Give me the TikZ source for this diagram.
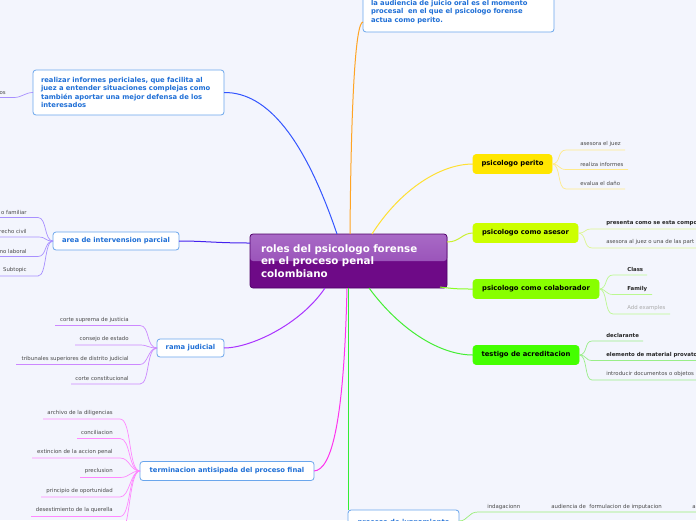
\documentclass[tikz,border=0pt]{standalone}
\usepackage{fontspec}
\setmainfont{DejaVu Sans}
\definecolor{bgc}{HTML}{F3F5FD}
\definecolor{bluet}{HTML}{1F6FD6}
\definecolor{nodeb}{HTML}{6AA6EC}
\definecolor{leafc}{HTML}{4A4A4A}
\definecolor{cblue}{HTML}{3355FF}
\definecolor{corange}{HTML}{FFA424}
\definecolor{cviol}{HTML}{4422EE}
\definecolor{cviolL}{HTML}{A890FF}
\definecolor{crama}{HTML}{AA33FF}
\definecolor{cramaL}{HTML}{CC88FF}
\definecolor{cmag}{HTML}{FF33EE}
\definecolor{cmagL}{HTML}{FF88FF}
\definecolor{cgreen}{HTML}{33EE33}
\definecolor{cgreenL}{HTML}{99EE77}
\definecolor{cyel}{HTML}{FFE033}
\definecolor{cyelL}{HTML}{FFEA8A}
\definecolor{clime}{HTML}{CCF033}
\definecolor{climeL}{HTML}{DDF590}
\definecolor{ccol}{HTML}{88FF22}
\definecolor{ccolL}{HTML}{BBF890}
\definecolor{ctes}{HTML}{44EE33}
\definecolor{ctesL}{HTML}{99EE88}
\definecolor{fper}{HTML}{FFE600}
\definecolor{fase}{HTML}{CCFF00}
\definecolor{fcol}{HTML}{88FF00}
\definecolor{ftes}{HTML}{44FF00}
\definecolor{cpTop}{HTML}{A86AC6}
\definecolor{cpMid}{HTML}{8E3FAE}
\definecolor{cpBot}{HTML}{6E0A87}
\definecolor{cpBord}{HTML}{4E0066}
\definecolor{addc}{HTML}{AAAAAA}
\begin{document}
\begin{tikzpicture}[x=1pt,y=-1pt,
  bn/.style={draw=nodeb, line width=0.8pt, fill=white, rounded corners=3pt,
    text=bluet, font=\fontsize{6.8}{8.6}\selectfont\bfseries, inner sep=0pt, outer sep=0pt},
  cnode/.style={rounded corners=3pt, text=black, font=\fontsize{6.8}{8}\selectfont\bfseries,
    inner sep=0pt, outer sep=0pt, line width=0.6pt},
  lf/.style={font=\fontsize{5.4}{6}\selectfont, text=leafc, inner sep=0.3pt, outer sep=0pt},
  lfb/.style={lf, font=\fontsize{5.4}{6}\selectfont\bfseries, text=black!85},
  conn/.style={line width=1pt},
  leaf/.style={line width=0.7pt}
]
\useasboundingbox[fill=bgc] (0,0) rectangle (696,520);

% ---------- connector end points on the centre node ----------
\coordinate (cTopO) at (350,234);
\coordinate (cTopB) at (337,234);
\coordinate (cTopY) at (372,234);
\coordinate (cLeft) at (250,243);
\coordinate (cBotV) at (325,288);
\coordinate (cBotM) at (347,288);
\coordinate (cBotG) at (348.5,288);
\coordinate (cBotT) at (369,288);
\coordinate (cRA) at (447,242);
\coordinate (cRC) at (440,287);

% ---------- main node ----------
\node[rounded corners=3pt, draw=cpBord, line width=0.7pt, fill=cpBot,
  minimum width=197pt, minimum height=54pt, inner sep=0pt,
  text width=175pt, align=left, text=white,
  font=\fontsize{10.3}{12.5}\selectfont\bfseries,
  path picture={\fill[top color=cpTop, bottom color=cpMid]
     (path picture bounding box.north west) rectangle (path picture bounding box.east);}]
  (root) at (348.5,261) {roles del psicologo forense\\en el proceso penal\\colombiano};

% ---------- top node ----------
\node[bn, minimum width=191pt, minimum height=40pt, text width=175pt, align=left]
  (juicio) at (458.5,12) {la audiencia de juicio oral es el momento\\procesal\ \ en el que el psicologo forense\\actua como perito.};
\draw[conn, corange] (cTopO) .. controls (351,110) and (355,22) .. (juicio.west |- 0,22);

% ---------- informes ----------
\node[bn, minimum width=191pt, minimum height=45pt, text width=175pt, align=left]
  (inf) at (128.5,92.5) {realizar informes periciales, que facilita al\\juez a entender situaciones complejas como\\también aportar una mejor defensa de los\\interesados};
\draw[conn, cblue] (cTopB) .. controls (305,140) and (268,92) .. (inf.east);
\node[lf, anchor=east] (os) at (6,93) {os};
\draw[leaf, cviolL] (0,97.5) -- (14,97.5) .. controls (22,97.5) and (25,92.5) .. (inf.west);

% ---------- area de intervension ----------
\node[bn, minimum width=126pt, minimum height=18pt] (area) at (116,241) {area de intervension parcial};
\draw[conn, cviol] (cLeft) .. controls (215,243) and (205,241) .. (area.east);
\node[lf, anchor=east] (a1) at (27,212) {o familiar};
\node[lf, anchor=east] (a2) at (27,231.5) {recho civil};
\node[lf, anchor=east] (a3) at (27,251) {mo laboral};
\node[lf, anchor=east] (a4) at (27,270.5) {Subtopic};
\foreach \yy in {217.5,237,256.5,276}{
  \draw[leaf, cviolL] (0,\yy) -- (38,\yy) .. controls (47,\yy) and (44,241) .. (area.west);}

% ---------- rama judicial ----------
\node[bn, minimum width=67pt, minimum height=18pt] (rama) at (190.5,348) {rama judicial};
\draw[conn, crama] (cBotV) .. controls (300,325) and (250,348) .. (rama.east);
\node[lf, anchor=east] (r1) at (129,320) {corte suprema de justicia};
\node[lf, anchor=east] (r2) at (129,339.5) {consejo de estado};
\node[lf, anchor=east] (r3) at (129,359) {tribunales superiores de distrito judicial};
\node[lf, anchor=east] (r4) at (129,378.5) {corte constitucional};
\draw[leaf, cramaL] (55,325.5) -- (140,325.5) .. controls (150,325.5) and (146,348) .. (rama.west);
\draw[leaf, cramaL] (75,345) -- (140,345) .. controls (148,345) and (148,348) .. (rama.west);
\draw[leaf, cramaL] (16,364.5) -- (140,364.5) .. controls (148,364.5) and (148,348) .. (rama.west);
\draw[leaf, cramaL] (71,384) -- (140,384) .. controls (150,384) and (146,348) .. (rama.west);

% ---------- terminacion ----------
\node[bn, minimum width=174pt, minimum height=19pt] (term) at (227,471) {terminacion antisipada del proceso final};
\draw[conn, cmag] (cBotM) .. controls (344,420) and (332,470) .. (term.east);
\node[lf, anchor=east] (t1) at (113,413) {archivo de la diligencias};
\node[lf, anchor=east] (t2) at (113,432.5) {conciliacion};
\node[lf, anchor=east] (t3) at (113,452) {extincion de la accion penal};
\node[lf, anchor=east] (t4) at (113,471.5) {preclusion};
\node[lf, anchor=east] (t5) at (113,491) {principio de oportunidad};
\node[lf, anchor=east] (t6) at (113,510.5) {desestimiento de la querella};
\draw[leaf, cmagL] (43,419) -- (120,419) .. controls (132,419) and (128,471) .. (term.west);
\draw[leaf, cmagL] (77,438.5) -- (120,438.5) .. controls (131,438.5) and (128,471) .. (term.west);
\draw[leaf, cmagL] (32,458) -- (120,458) .. controls (130,458) and (130,471) .. (term.west);
\draw[leaf, cmagL] (80,477.5) -- (120,477.5) .. controls (130,477.5) and (130,471) .. (term.west);
\draw[leaf, cmagL] (41,497) -- (120,497) .. controls (130,497) and (130,471) .. (term.west);
\draw[leaf, cmagL] (31,516.5) -- (120,516.5) .. controls (131,516.5) and (128,471) .. (term.west);
\coordinate (tmore) at (118,536);
\draw[leaf, cmagL] (tmore) .. controls (131,536) and (128,471) .. (term.west);

% ---------- proceso de juzgamiento ----------
\node[bn, minimum width=111pt, minimum height=26pt] (proc) at (403.5,523) {proceso de juzgamiento};
\draw[conn, cgreen] (cBotG) -- (proc.north west -| cBotG);
\draw[leaf, cgreenL] (proc.east |- 0,521) .. controls (468,521) and (468,512) .. (478,512) -- (696,512);
\node[lf, anchor=west] (p1) at (487,507) {indagacionn};
\node[lf, anchor=west] (p2) at (551,507) {audiencia de\ \ formulacion de imputacion};
\node[lf, anchor=west] (p3) at (692,507) {a};

% ---------- psicologo perito ----------
\node[cnode, fill=fper, draw=fper, minimum width=79pt, minimum height=19pt] (per) at (512.5,164) {psicologo perito};
\draw[conn, cyel] (cTopY) .. controls (400,190) and (440,164) .. (per.west);
\node[lf, anchor=west] (pe1) at (580,144) {asesora el juez};
\node[lf, anchor=west] (pe2) at (580,164) {realiza informes};
\node[lf, anchor=west] (pe3) at (580,183) {evalua el daño};
\draw[leaf, cyelL] (per.east) .. controls (561,164) and (557,150) .. (566,150) -- (625,150);
\draw[leaf, cyelL] (per.east) .. controls (560,164) and (558,169.5) .. (566,169.5) -- (628,169.5);
\draw[leaf, cyelL] (per.east) .. controls (561,164) and (557,189) .. (566,189) -- (625,189);

% ---------- psicologo como asesor ----------
\node[cnode, fill=fase, draw=fase, minimum width=105pt, minimum height=19pt] (ase) at (525.5,233) {psicologo como asesor};
\draw[conn, clime] (cRA) .. controls (460,242) and (462,233) .. (ase.west);
\node[lfb, anchor=west] (as1) at (606,223) {presenta como se esta compo};
\node[lf, anchor=west] (as2) at (606,242) {asesora al juez o una de las part};
\draw[leaf, climeL] (ase.east) .. controls (587,233) and (583,229) .. (592,229) -- (696,229);
\draw[leaf, climeL] (ase.east) .. controls (587,233) and (583,248) .. (592,248) -- (696,248);

% ---------- psicologo como colaborador ----------
\node[cnode, fill=fcol, draw=fcol, minimum width=126pt, minimum height=19pt] (col) at (536,289) {psicologo como colaborador};
\draw[conn, ccol] (cRC) .. controls (455,289) and (460,289) .. (col.west);
\node[lfb, anchor=west] (co1) at (627,269) {Class};
\node[lfb, anchor=west] (co2) at (627,289) {Family};
\node[lf, anchor=west, text=addc] (co3) at (627,308) {Add examples};
\draw[leaf, ccolL] (col.east) .. controls (608,289) and (604,275) .. (613,275) -- (647,275);
\draw[leaf, ccolL] (col.east) .. controls (607,289) and (605,294.5) .. (613,294.5) -- (652,294.5);
\draw[leaf, ccolL] (col.east) .. controls (608,289) and (604,314) .. (613,314) -- (670,314);

% ---------- testigo de acreditacion ----------
\node[cnode, fill=ftes, draw=ftes, minimum width=106pt, minimum height=19pt] (tes) at (526,355) {testigo de acreditacion};
\draw[conn, ctes] (cBotT) .. controls (400,330) and (440,355) .. (tes.west);
\node[lfb, anchor=west] (te1) at (606,335) {declarante};
\node[lfb, anchor=west] (te2) at (606,355) {elemento de material provato};
\node[lf, anchor=west] (te3) at (606,374) {introducir documentos o objetos};
\draw[leaf, ctesL] (tes.east) .. controls (588,355) and (584,341) .. (592,341) -- (643,341);
\draw[leaf, ctesL] (tes.east) .. controls (587,355) and (585,360.5) .. (592,360.5) -- (696,360.5);
\draw[leaf, ctesL] (tes.east) .. controls (588,355) and (584,380) .. (592,380) -- (696,380);
\end{tikzpicture}
\end{document}
